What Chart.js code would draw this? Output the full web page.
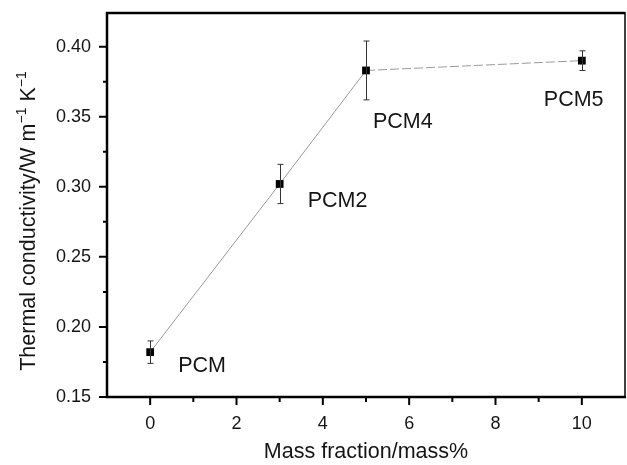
<!DOCTYPE html>
<html>
<head>
    <title>Thermal conductivity vs mass fraction</title>
    <script src="https://cdn.jsdelivr.net/npm/chart.js"></script>
    <style>
      html, body { margin: 0; padding: 0; background: #fff; }
      #wrap { width: 627px; height: 465px; }
    </style>
</head>
<body>
    <div id="wrap"><canvas id="tcChart" width="627" height="465"></canvas></div>

    <script>
    // values
    const massFraction = [0, 3, 5, 10];
    const conductivity = [0.182, 0.302, 0.383, 0.390];
    const errorSize = [0.008, 0.014, 0.021, 0.007];
    const sampleNames = ['PCM', 'PCM2', 'PCM4', 'PCM5'];
    const xTicks = [0, 2, 4, 6, 8, 10];
    const xMinorTicks = [1, 3, 5, 7, 9];
    const yTicks = [0.15, 0.20, 0.25, 0.30, 0.35, 0.40];
    const yMinorTicks = [0.175, 0.225, 0.275, 0.325, 0.375];

    // label placement next to each point (pixels from point)
    const labelOffsets = [[28, 20], [28, 23], [7, 58], [-38, 45]];

    const FONT = '"Liberation Sans", Arial, sans-serif';
    const INK = '#151515';

    const framePlugin = {
      id: 'frame',
      afterDatasetsDraw(chart) {
        const ctx = chart.ctx;
        const a = chart.chartArea;
        const xs = chart.scales.x, ys = chart.scales.y;
        ctx.save();

        // error bars
        ctx.strokeStyle = '#333';
        ctx.lineWidth = 1;
        massFraction.forEach((m, i) => {
          const px = Math.round(xs.getPixelForValue(m)) + 0.5;
          const top = ys.getPixelForValue(conductivity[i] + errorSize[i]);
          const bot = ys.getPixelForValue(conductivity[i] - errorSize[i]);
          ctx.beginPath();
          ctx.moveTo(px, top); ctx.lineTo(px, bot);
          ctx.moveTo(px - 3, top); ctx.lineTo(px + 3, top);
          ctx.moveTo(px - 3, bot); ctx.lineTo(px + 3, bot);
          ctx.stroke();
        });

        // sample labels
        ctx.fillStyle = INK;
        ctx.font = '21.5px ' + FONT;
        ctx.textBaseline = 'alphabetic';
        ctx.textAlign = 'left';
        sampleNames.forEach((name, i) => {
          const px = xs.getPixelForValue(massFraction[i]);
          const py = ys.getPixelForValue(conductivity[i]);
          ctx.fillText(name, px + labelOffsets[i][0], py + labelOffsets[i][1]);
        });

        // frame
        ctx.strokeStyle = '#000';
        ctx.lineWidth = 2.5;
        ctx.beginPath();
        ctx.moveTo(a.right, a.top); ctx.lineTo(a.left, a.top);
        ctx.lineTo(a.left, a.bottom); ctx.lineTo(a.right + 1, a.bottom);
        ctx.stroke();
        ctx.lineWidth = 1.5;
        ctx.beginPath();
        ctx.moveTo(a.right, a.top - 1); ctx.lineTo(a.right, a.bottom);
        ctx.stroke();

        // tick marks, outward
        ctx.lineWidth = 2;
        ctx.beginPath();
        xTicks.forEach(v => {
          const px = xs.getPixelForValue(v);
          ctx.moveTo(px, a.bottom); ctx.lineTo(px, a.bottom + 8);
        });
        xMinorTicks.forEach(v => {
          const px = xs.getPixelForValue(v);
          ctx.moveTo(px, a.bottom); ctx.lineTo(px, a.bottom + 5);
        });
        yTicks.forEach(v => {
          const py = ys.getPixelForValue(v);
          ctx.moveTo(a.left, py); ctx.lineTo(a.left - 8, py);
        });
        yMinorTicks.forEach(v => {
          const py = ys.getPixelForValue(v);
          ctx.moveTo(a.left, py); ctx.lineTo(a.left - 4, py);
        });
        ctx.stroke();

        // y axis title with superscripts
        const parts = [['Thermal conductivity/W m', false], ['\u22121', true], [' K', false], ['\u22121', true]];
        const big = '21.5px ' + FONT, small = '14px ' + FONT;
        ctx.fillStyle = INK;
        let total = 0;
        parts.forEach(p => { ctx.font = p[1] ? small : big; total += ctx.measureText(p[0]).width; });
        ctx.translate(29, (a.top + a.bottom) / 2 + 16);
        ctx.rotate(-Math.PI / 2);
        ctx.textBaseline = 'middle';
        let x0 = -total / 2;
        parts.forEach(p => {
          ctx.font = p[1] ? small : big;
          ctx.fillText(p[0], x0, p[1] ? -7 : 0);
          x0 += ctx.measureText(p[0]).width;
        });
        ctx.restore();
      }
    };

    new Chart(document.getElementById('tcChart'), {
      type: 'line',
      data: {
        datasets: [{
          label: 'Thermal conductivity',
          data: massFraction.map((m, i) => ({ x: m, y: conductivity[i] })),
          borderColor: '#9a9a9a',
          borderWidth: 1,
          backgroundColor: '#000',
          pointBackgroundColor: '#000',
          pointBorderColor: '#000',
          pointStyle: 'rect',
          pointRadius: 5.5,
          pointBorderWidth: 0,
          fill: false,
          tension: 0,
          segment: {
            borderDash: c => c.p0DataIndex === 2 ? [9, 3] : undefined
          }
        }]
      },
      options: {
        responsive: false,
        animation: false,
        layout: { autoPadding: false, padding: { top: 13, right: 2, left: 0, bottom: 0 } },
        plugins: {
          legend: { display: false },
          tooltip: { enabled: false }
        },
        scales: {
          x: {
            type: 'linear',
            min: -1,
            max: 11,
            afterBuildTicks: s => { s.ticks = xTicks.map(v => ({ value: v })); },
            afterFit: s => { s.height = 68; s.paddingLeft = 0; s.paddingRight = 0; },
            grid: { display: false, drawTicks: false },
            border: { display: false },
            ticks: { padding: 16, color: INK, font: { family: FONT, size: 18 } },
            title: {
              display: true,
              text: 'Mass fraction/mass%',
              color: INK,
              font: { family: FONT, size: 21.5 },
              padding: { top: 0, bottom: 0 }
            }
          },
          y: {
            min: 0.15,
            max: 0.424,
            afterBuildTicks: s => { s.ticks = yTicks.map(v => ({ value: v })); },
            afterFit: s => { s.width = 107; s.paddingTop = 0; s.paddingBottom = 0; },
            grid: { display: false, drawTicks: false },
            border: { display: false },
            ticks: {
              padding: 16,
              color: INK,
              font: { family: FONT, size: 18 },
              callback: v => Number(v).toFixed(2)
            }
          }
        }
      },
      plugins: [framePlugin]
    });
    </script>
</body>
</html>
